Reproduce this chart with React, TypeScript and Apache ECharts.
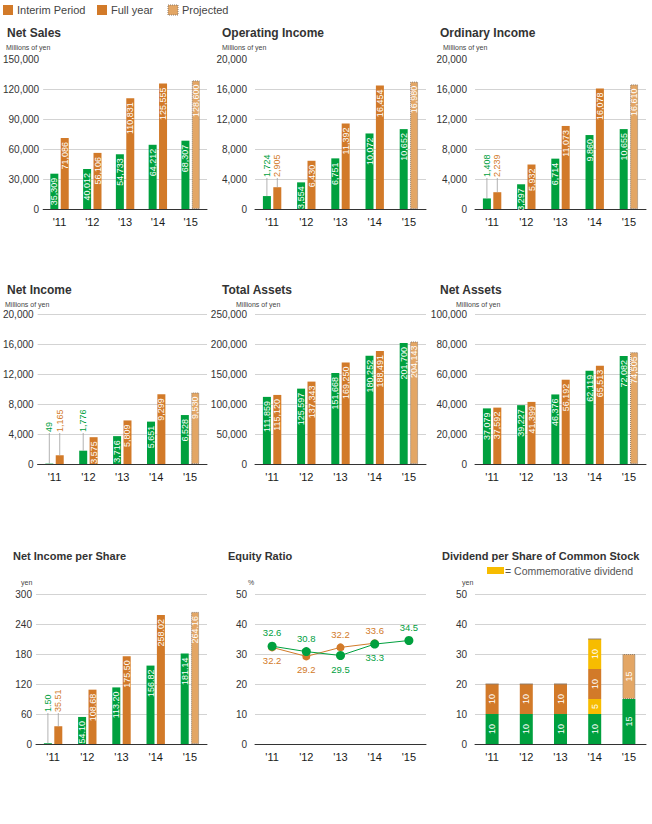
import React, { useEffect, useRef } from 'react';
import * as echarts from 'echarts';

const categories = ["'11", "'12", "'13", "'14", "'15"];

const netSalesInterim = [35309, 40012, 54733, 64212, 68307];
const netSalesFull = [71086, 56106, 110831, 125555, 128600];
const opIncomeInterim = [1724, 3554, 6751, 10072, 10652];
const opIncomeFull = [2905, 6430, 11392, 16454, 16980];
const ordIncomeInterim = [1408, 3297, 6714, 9860, 10655];
const ordIncomeFull = [2239, 5932, 11073, 16078, 16610];
const netIncomeInterim = [49, 1776, 3716, 5651, 6528];
const netIncomeFull = [1165, 3575, 5809, 9299, 9530];
const totalAssetsInterim = [111859, 125597, 151668, 180252, 201700];
const totalAssetsFull = [115120, 137343, 169250, 188491, 204143];
const netAssetsInterim = [37079, 39227, 46376, 62119, 72082];
const netAssetsFull = [37592, 41399, 56192, 65513, 74505];
const epsInterim = [1.5, 54.1, 113.2, 156.82, 181.14];
const epsFull = [35.51, 108.68, 175.5, 258.02, 264.16];
const equityInterim = [32.6, 30.8, 29.5, 33.3, 34.5];
const equityFull = [32.2, 29.2, 32.2, 33.6];
const divInterim = [10, 10, 10, 10, 15];
const divCommemInterim = [0, 0, 0, 5, 0];
const divYearEnd = [10, 10, 10, 10, 0];
const divCommemYearEnd = [0, 0, 0, 10, 0];
const divProjected = [0, 0, 0, 0, 15];

const GREEN = '#00a03e';
const ORANGE = '#d27a29';
const PROJ = '#e3a665';
const YELLOW = '#f7bc00';
const GRID_LINE = '#d3d3d3';
const TXT = '#333';
const NARROW = '"Liberation Sans Narrow", "Liberation Sans", Arial, sans-serif';
const SANS = '"Liberation Sans", Arial, sans-serif';

const colX = [36, 255, 475];
const colLabelMargin = [4, 8, 8];
const rowTop = [59, 314, 594];
const gridW = 171;
const gridH = 150;

const fmtInt = (v: number) => v.toLocaleString('en-US');
const fmtDec = (v: number) => v.toFixed(2);

export default function App() {
  const ref = useRef<HTMLDivElement>(null);
  useEffect(() => {
    const chart = echarts.init(ref.current!, null, { renderer: 'svg' });
    const grids: any[] = [];
    const xAxes: any[] = [];
    const yAxes: any[] = [];
    const series: any[] = [];
    const graphics: any[] = [];

    const addGrid = (col: number, row: number, max: number, interval: number, hideTop: boolean) => {
      const idx = grids.length;
      grids.push({ left: colX[col], top: rowTop[row], width: gridW, height: gridH });
      xAxes.push({
        gridIndex: idx, type: 'category', data: categories,
        axisLine: { lineStyle: { color: '#333', width: 1 } },
        axisTick: { show: false },
        axisLabel: { fontSize: 11, color: '#1a1a1a', fontFamily: NARROW, margin: 7 },
      });
      const n = Math.round(max / interval) + 1;
      const colors: string[] = [];
      for (let i = 0; i < n; i++) colors.push(hideTop && i === n - 1 ? 'rgba(0,0,0,0)' : GRID_LINE);
      yAxes.push({
        gridIndex: idx, type: 'value', min: 0, max, interval,
        axisLine: { show: false }, axisTick: { show: false },
        axisLabel: { fontSize: 10, color: TXT, fontFamily: NARROW, margin: colLabelMargin[col], formatter: (v: number) => fmtInt(v) },
        splitLine: { lineStyle: { color: colors, width: 1 } },
      });
      return idx;
    };

    const addTitle = (x: number, y: number, text: string, size: number) => {
      graphics.push({ type: 'text', x, y, style: { text, fill: TXT, font: `bold ${size}px ${SANS}`, verticalAlign: 'middle' } });
    };
    const addUnit = (x: number, y: number, text: string) => {
      graphics.push({ type: 'text', x, y, style: { text, fill: '#444', font: `7px ${SANS}`, verticalAlign: 'middle' } });
    };

    const insideLabel = {
      show: true, position: 'insideTop', rotate: 90, align: 'right', verticalAlign: 'middle',
      distance: 4, color: '#fff', fontSize: 9, fontFamily: NARROW,
    };

    const addBarPanel = (p: {
      col: number; row: number; title: string; unit: string; unitX: number;
      interim: number[]; full: number[]; max: number; interval: number;
      fmt: (v: number) => string; hideTop: boolean; outside: [number, number][];
      titleX: number; unitY: number; titleY: number; titleSize: number;
    }) => {
      const g = addGrid(p.col, p.row, p.max, p.interval, p.hideTop);
      addTitle(p.titleX, p.titleY, p.title, p.titleSize);
      addUnit(p.unitX, p.unitY, p.unit);
      const isOut = (c: number, s: number) => p.outside.some(([a, b]) => a === c && b === s);
      series.push({
        type: 'bar', xAxisIndex: g, yAxisIndex: g, barWidth: 8, barGap: '30%',
        itemStyle: { color: GREEN },
        label: { ...insideLabel, formatter: (pp: any) => p.fmt(pp.value) },
        data: p.interim.map((v, i) => (isOut(i, 0) ? { value: v, label: { show: false } } : v)),
      });
      series.push({
        type: 'bar', xAxisIndex: g, yAxisIndex: g, barWidth: 8,
        itemStyle: { color: ORANGE },
        label: { ...insideLabel, formatter: (pp: any) => p.fmt(pp.value) },
        data: p.full.map((v, i) => {
          const item: any = { value: v };
          if (i === p.full.length - 1) item.itemStyle = { color: PROJ, borderColor: '#8d7a68', borderType: 'dotted', borderWidth: 1 };
          if (isOut(i, 1)) item.label = { show: false };
          return item;
        }),
      });
      if (p.outside.length) {
        const items = p.outside.map(([c, s]) => ({
          cat: c, side: s, value: s === 0 ? p.interim[c] : p.full[c],
        }));
        series.push({
          type: 'custom', xAxisIndex: g, yAxisIndex: g, z: 5, clip: false,
          data: items.map((it) => [it.cat, it.value, it.side]),
          renderItem: (params: any, api: any) => {
            const it = items[params.dataIndex];
            const top = api.coord([it.cat, it.value]);
            const base = api.coord([it.cat, 0]);
            const x = top[0] + (it.side === 0 ? -5.2 : 5.2);
            const ty = base[1] - 32;
            return {
              type: 'group',
              children: [
                { type: 'line', shape: { x1: x, y1: top[1], x2: x, y2: ty + 1 }, style: { stroke: '#a0a0a0', lineWidth: 0.8 } },
                {
                  type: 'text', x, y: ty, rotation: Math.PI / 2,
                  style: { text: p.fmt(it.value), fill: it.side === 0 ? GREEN : ORANGE, font: `9px ${NARROW}`, align: 'left', verticalAlign: 'middle' },
                },
              ],
            };
          },
        });
      }
    };

    addBarPanel({ col: 0, row: 0, title: 'Net Sales', unit: 'Millions of yen', titleX: 7, titleY: 33, titleSize: 12, unitX: 6, unitY: 47,
      interim: netSalesInterim, full: netSalesFull, max: 150000, interval: 30000, fmt: fmtInt, hideTop: true, outside: [] });
    addBarPanel({ col: 1, row: 0, title: 'Operating Income', unit: 'Millions of yen', titleX: 222, titleY: 33, titleSize: 12, unitX: 222, unitY: 47,
      interim: opIncomeInterim, full: opIncomeFull, max: 20000, interval: 4000, fmt: fmtInt, hideTop: true, outside: [[0, 0], [0, 1]] });
    addBarPanel({ col: 2, row: 0, title: 'Ordinary Income', unit: 'Millions of yen', titleX: 440, titleY: 33, titleSize: 12, unitX: 443, unitY: 47,
      interim: ordIncomeInterim, full: ordIncomeFull, max: 20000, interval: 4000, fmt: fmtInt, hideTop: true, outside: [[0, 0], [0, 1]] });
    addBarPanel({ col: 0, row: 1, title: 'Net Income', unit: 'Millions of yen', titleX: 7, titleY: 290, titleSize: 12, unitX: 5, unitY: 304,
      interim: netIncomeInterim, full: netIncomeFull, max: 20000, interval: 4000, fmt: fmtInt, hideTop: false, outside: [[0, 0], [0, 1], [1, 0]] });
    addBarPanel({ col: 1, row: 1, title: 'Total Assets', unit: 'Millions of yen', titleX: 222, titleY: 290, titleSize: 12, unitX: 236, unitY: 304,
      interim: totalAssetsInterim, full: totalAssetsFull, max: 250000, interval: 50000, fmt: fmtInt, hideTop: false, outside: [] });
    addBarPanel({ col: 2, row: 1, title: 'Net Assets', unit: 'Millions of yen', titleX: 440, titleY: 290, titleSize: 12, unitX: 456, unitY: 304,
      interim: netAssetsInterim, full: netAssetsFull, max: 100000, interval: 20000, fmt: fmtInt, hideTop: false, outside: [] });
    addBarPanel({ col: 0, row: 2, title: 'Net Income per Share', unit: 'yen', titleX: 13, titleY: 556, titleSize: 11, unitX: 21, unitY: 582,
      interim: epsInterim, full: epsFull, max: 300, interval: 60, fmt: fmtDec, hideTop: false, outside: [[0, 0], [0, 1]] });

    // Equity ratio
    const ge = addGrid(1, 2, 50, 10, false);
    addTitle(228, 556, 'Equity Ratio', 11);
    addUnit(248, 582, '%');
    const fullPos = ['bottom', 'bottom', 'top', 'top'];
    const intPos = ['top', 'top', 'bottom', 'bottom', 'top'];
    series.push({
      type: 'line', xAxisIndex: ge, yAxisIndex: ge, symbol: 'circle', symbolSize: 8,
      lineStyle: { color: ORANGE, width: 1 }, itemStyle: { color: ORANGE },
      label: { show: true, color: ORANGE, fontSize: 9.5, fontFamily: NARROW, distance: 4, formatter: (pp: any) => pp.value.toFixed(1) },
      data: equityFull.map((v, i) => ({ value: v, label: { position: fullPos[i] } })),
    });
    series.push({
      type: 'line', xAxisIndex: ge, yAxisIndex: ge, symbol: 'circle', symbolSize: 9,
      lineStyle: { color: GREEN, width: 1 }, itemStyle: { color: GREEN },
      label: { show: true, color: GREEN, fontSize: 9.5, fontFamily: NARROW, distance: 4, formatter: (pp: any) => pp.value.toFixed(1) },
      data: equityInterim.map((v, i) => ({ value: v, label: { position: intPos[i] } })),
    });

    // Dividend
    const gd = addGrid(2, 2, 50, 10, false);
    addTitle(442, 556, 'Dividend per Share of Common Stock', 11);
    addUnit(462, 582, 'yen');
    graphics.push({ type: 'rect', shape: { x: 487, y: 567, width: 17, height: 7 }, style: { fill: YELLOW } });
    graphics.push({ type: 'text', x: 505, y: 571, style: { text: '= Commemorative dividend', fill: '#555', font: `10.5px ${NARROW}`, verticalAlign: 'middle' } });
    const divLabel = {
      show: true, position: 'inside', rotate: 90, color: '#fff', fontSize: 9, fontFamily: NARROW,
      formatter: (pp: any) => (pp.value ? String(pp.value) : ''),
    };
    const divSeries: [number[], any][] = [
      [divInterim, { color: GREEN }],
      [divCommemInterim, { color: YELLOW }],
      [divYearEnd, { color: ORANGE }],
      [divCommemYearEnd, { color: YELLOW }],
      [divProjected, { color: PROJ, borderColor: '#8d7a68', borderType: 'dotted', borderWidth: 1 }],
    ];
    divSeries.forEach(([d, st]) => {
      series.push({ type: 'bar', xAxisIndex: gd, yAxisIndex: gd, stack: 'div', barWidth: 13, itemStyle: st, label: divLabel, data: d });
    });

    // Top legend
    const legendItems: [number, string, any][] = [
      [3, 'Interim Period', { fill: ORANGE }],
      [97, 'Full year', { fill: ORANGE }],
      [168, 'Projected', { fill: PROJ, stroke: '#8d7a68', lineWidth: 1, lineDash: [1, 1] }],
    ];
    legendItems.forEach(([x, t, st]) => {
      graphics.push({ type: 'rect', shape: { x, y: 5, width: 10, height: 10 }, style: st });
      graphics.push({ type: 'text', x: x + 14, y: 10, style: { text: t, fill: '#444', font: `11px ${SANS}`, verticalAlign: 'middle' } });
    });

    chart.setOption({
      animation: false,
      textStyle: { fontFamily: SANS },
      grid: grids, xAxis: xAxes, yAxis: yAxes, series, graphic: graphics,
    });
    return () => chart.dispose();
  }, []);
  return <div ref={ref} style={{ position: 'absolute', left: 0, top: 0, width: 652, height: 824 }} />;
}
